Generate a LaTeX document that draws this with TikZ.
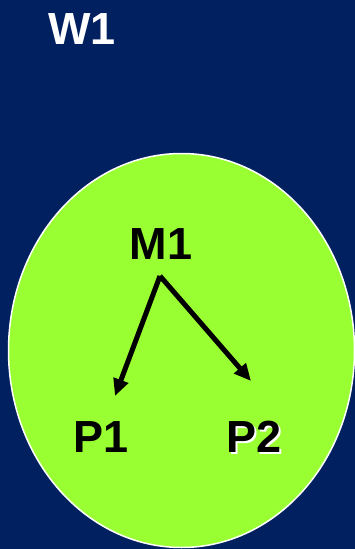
\documentclass[tikz,border=0pt]{standalone}
\usepackage{fontspec}
\setmainfont{Liberation Sans}
\usetikzlibrary{arrows.meta}
\definecolor{navy}{HTML}{00205F}
\definecolor{lime}{HTML}{99FF33}
\begin{document}
\begin{tikzpicture}[x=1pt,y=-1pt,
  lbl/.style={font=\fontsize{45}{45}\selectfont\bfseries, inner sep=0pt},
  arr/.style={line width=5pt, -{Triangle[length=17pt,width=15pt]}}]
\fill[navy] (0,0) rectangle (355,549);
\useasboundingbox (0,0) rectangle (355,549);
\node[lbl, text=white] (W1) at (82,29) {W1};
\draw[white, line width=1.5pt, fill=lime] (181.5,350.5) ellipse [x radius=173, y radius=197];
\node[lbl] (M1) at (161,244) {M1};
\node[lbl] (P1) at (101,437) {P1};
\node[lbl, text=white] (P2s) at (256,439) {P2};
\node[lbl] (P2) at (254,437) {P2};
\coordinate (s) at (160,276);
\coordinate (t1) at (115,396);
\coordinate (t2) at (251,381);
\draw[arr] (s) -- (t1);
\draw[arr] (s) -- (t2);
\end{tikzpicture}
\end{document}
